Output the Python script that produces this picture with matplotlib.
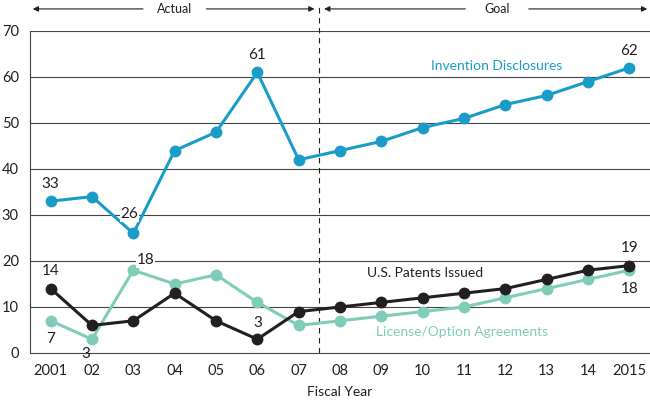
import matplotlib
matplotlib.use("Agg")
import matplotlib.pyplot as plt

years = ["2001", "02", "03", "04", "05", "06", "07", "08", "09", "10", "11", "12", "13", "14", "2015"]
invention = [33, 34, 26, 44, 48, 61, 42, 44, 46, 49, 51, 54, 56, 59, 62]
patents = [14, 6, 7, 13, 7, 3, 9, 10, 11, 12, 13, 14, 16, 18, 19]
licenses = [7, 3, 18, 15, 17, 11, 6, 7, 8, 9, 10, 12, 14, 16, 18]
yticks = [0, 10, 20, 30, 40, 50, 60, 70]

blue = "#1a9cc9"
teal = "#7fcdb9"
black = "#231f20"

plt.rcParams['font.family'] = ['Lato', 'DejaVu Sans']

fig = plt.figure(figsize=(6.5, 4.05), dpi=100)
ax = fig.add_axes([30/650, 1-353/405, 620/650, (353-31)/405])
x = list(range(len(years)))

for yv in yticks[1:]:
    ax.axhline(yv, color="#444444", lw=0.8, zorder=1)

ax.plot(x, invention, color=blue, lw=2.2, marker="o", ms=7.5, zorder=3, clip_on=False)
ax.plot(x, licenses, color=teal, lw=2.2, marker="o", ms=7.5, zorder=3, clip_on=False)
ax.plot(x, patents, color=black, lw=2.2, marker="o", ms=7.5, zorder=4, clip_on=False)

ax.set_xlim(-0.5, 14.5)
ax.set_ylim(0, 70)
ax.set_xticks(x)
ax.set_xticklabels(years, fontsize=10.5, color=black)
ax.set_yticks(yticks)
ax.set_yticklabels([str(v) for v in yticks], fontsize=10.5, color=black)
ax.tick_params(length=0, pad=8)
for s in ["top", "right"]:
    ax.spines[s].set_visible(False)
ax.spines["left"].set_color("#444444")
ax.spines["bottom"].set_color("#444444")
ax.spines["left"].set_linewidth(0.8)
ax.spines["bottom"].set_linewidth(0.8)
ax.set_xlabel("Fiscal Year", fontsize=10, color=black, labelpad=6)

# divider
ax.plot([6.5, 6.5], [0, 75.5], color=black, lw=0.8, ls=(0, (5, 4)), clip_on=False, zorder=2)

# Actual / Goal arrows
ya = 74.8
kw = dict(arrowstyle="-|>", color=black, lw=0.8, mutation_scale=8)
ax.annotate("", xy=(-0.5, ya), xytext=(2.3, ya), arrowprops=kw, annotation_clip=False)
ax.annotate("", xy=(6.45, ya), xytext=(3.7, ya), arrowprops=kw, annotation_clip=False)
ax.text(3.0, ya, "Actual", ha="center", va="center", fontsize=9, color=black)
ax.annotate("", xy=(6.55, ya), xytext=(10.1, ya), arrowprops=kw, annotation_clip=False)
ax.annotate("", xy=(14.5, ya), xytext=(11.5, ya), arrowprops=kw, annotation_clip=False)
ax.text(10.8, ya, "Goal", ha="center", va="center", fontsize=9, color=black)

fs = 11
wb = dict(facecolor="white", edgecolor="none", pad=0.5)
ax.text(0, invention[0] + 2.2, "33", ha="center", va="bottom", fontsize=fs, color=black)
ax.text(1.9, 30.2, "26", ha="center", va="center", fontsize=fs, color=black, bbox=wb, zorder=5)
ax.text(5, invention[5] + 2.2, "61", ha="center", va="bottom", fontsize=fs, color=black)
ax.text(14, invention[14] + 2.2, "62", ha="center", va="bottom", fontsize=fs, color=black)
ax.text(0, patents[0] + 2.2, "14", ha="center", va="bottom", fontsize=fs, color=black)
ax.text(0, licenses[0] - 2.5, "7", ha="center", va="top", fontsize=fs, color=black)
ax.text(0.85, -0.2, "3", ha="center", va="center", fontsize=fs, color=black, zorder=5)
ax.text(2.3, 20.2, "18", ha="center", va="center", fontsize=fs, color=black, bbox=wb, zorder=5)
ax.text(5, patents[5] + 2.0, "3", ha="center", va="bottom", fontsize=fs, color=black)
ax.text(14, patents[14] + 2.2, "19", ha="center", va="bottom", fontsize=fs, color=black)
ax.text(14, licenses[14] - 2.5, "18", ha="center", va="top", fontsize=fs, color=black)

ax.text(10.8, 62.5, "Invention Disclosures", ha="center", va="center", fontsize=10, color=blue)
ax.text(9.05, 17.3, "U.S. Patents Issued", ha="center", va="center", fontsize=10, color=black)
ax.text(9.95, 4.6, "License/Option Agreements", ha="center", va="center", fontsize=10, color=teal)

fig.savefig("out.png", dpi=100)
